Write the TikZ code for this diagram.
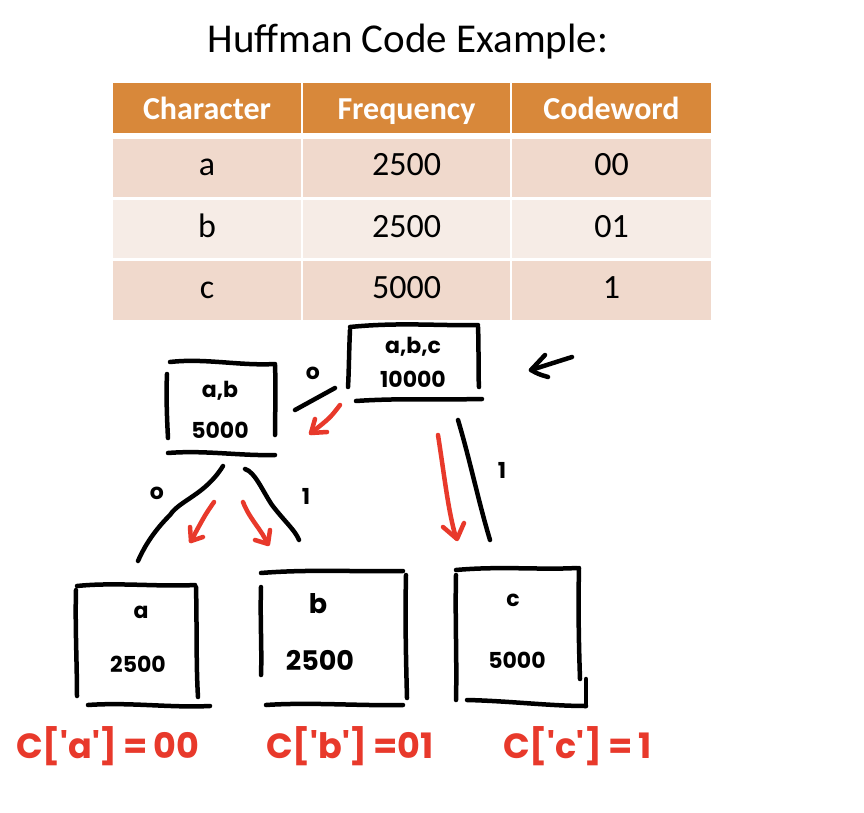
\documentclass[tikz,border=0pt]{standalone}
\usepackage{fontspec}
\setmainfont{Carlito}
\newfontfamily\hand{Poppins}
\usetikzlibrary{arrows.meta}
\definecolor{hdr}{HTML}{D8883A}
\definecolor{rowA}{HTML}{F0D9CC}
\definecolor{rowB}{HTML}{F6ECE6}
\definecolor{pen}{HTML}{E8392B}
\tikzset{
  cell/.style={inner sep=0pt, text height=23pt, text depth=7pt, font=\fontsize{34}{38}\selectfont},
  hcell/.style={cell, fill=hdr, text=white, text height=24pt, text depth=0pt, font=\fontsize{32}{36}\selectfont\bfseries},
  ink/.style={line width=4.5pt, line cap=round, line join=round, black},
  redink/.style={line width=4.5pt, line cap=round, line join=round, pen},
  htext/.style={inner sep=0pt, font=\hand\fontsize{22}{24}\selectfont\bfseries},
  rtext/.style={inner sep=0pt, text=pen, font=\hand\fontsize{35}{40}\selectfont\bfseries}
}
\begin{document}
\begin{tikzpicture}[x=1pt,y=-1pt]
\useasboundingbox (0,0) rectangle (864,813);
\fill[white] (0,0) rectangle (864,813);
% title
\node[inner sep=0pt, font=\fontsize{41}{46}\selectfont] (title) at (408,42) {Huffman Code Example:};
% table header
\node[hcell, minimum width=188pt, minimum height=50pt] (h1) at (207,108) {Character};
\node[hcell, minimum width=207pt, minimum height=50pt] (h2) at (406.5,108) {Frequency};
\node[hcell, minimum width=199pt, minimum height=50pt] (h3) at (611.5,108) {Codeword};
% rows
\node[cell, fill=rowA, minimum width=188pt, minimum height=58pt] (a1) at (207,168) {a};
\node[cell, fill=rowA, minimum width=207pt, minimum height=58pt] (a2) at (406.5,168) {2500};
\node[cell, fill=rowA, minimum width=199pt, minimum height=58pt] (a3) at (611.5,168) {00};
\node[cell, fill=rowB, minimum width=188pt, minimum height=58pt] (b1) at (207,229) {b};
\node[cell, fill=rowB, minimum width=207pt, minimum height=58pt] (b2) at (406.5,229) {2500};
\node[cell, fill=rowB, minimum width=199pt, minimum height=58pt] (b3) at (611.5,229) {01};
\node[cell, fill=rowA, minimum width=188pt, minimum height=59pt] (c1) at (207,290.5) {c};
\node[cell, fill=rowA, minimum width=207pt, minimum height=59pt] (c2) at (406.5,290.5) {5000};
\node[cell, fill=rowA, minimum width=199pt, minimum height=59pt] (c3) at (611.5,290.5) {1};

% ---- root box
\draw[ink] (350,330) .. controls (349,350) and (349,370) .. (348,387);
\draw[ink] (350,327) .. controls (400,322) and (440,326) .. (478,325);
\draw[ink] (478,327) .. controls (479,350) and (478,370) .. (479,387);
\draw[ink] (356,401) .. controls (400,398) and (440,400) .. (482,399);
\node[htext] (rt1) at (413,347) {a,b,c};
\node[htext] (rt2) at (413,379) {10000};
% pointer arrow
\draw[ink] (572,357) -- (531,370);
\draw[ink] (545,355) .. controls (538,362) .. (531,370) .. controls (538,374) .. (548,377);

% ---- ab box
\draw[ink] (167,374) .. controls (166,395) and (167,420) .. (168,438);
\draw[ink] (170,362) .. controls (205,358) and (240,366) .. (275,364);
\draw[ink] (275,365) .. controls (276,390) and (275,415) .. (275,435);
\draw[ink] (168,453) .. controls (205,450) and (240,456) .. (275,455);
\node[htext] (ab1) at (220,391) {a,b};
\node[htext] (ab2) at (220,430) {5000};

% edge root -> ab
\node[htext] (l0a) at (313,373) {o};
\draw[ink] (295,410) -- (335,388);
\draw[redink] (340,405) .. controls (330,418) .. (311,433);
\draw[redink] (315,419) -- (311,433) -- (327,432);

% edges ab -> a, b
\node[htext] (l0b) at (157,493) {o};
\draw[ink] (223,466) .. controls (205,495) and (180,500) .. (170,515) .. controls (155,530) and (145,545) .. (138,561);
\draw[redink] (214,502) .. controls (205,515) .. (191,541);
\draw[redink] (190,527) -- (191,541) -- (203,537);
\node[htext] (l1b) at (306,496) {1};
\draw[ink] (245,469) .. controls (255,472) and (262,490) .. (272,505) .. controls (285,522) and (295,530) .. (299,540);
\draw[redink] (243,502) .. controls (250,520) and (262,530) .. (267,543);
\draw[redink] (255,540) -- (268,544) -- (270,530);

% edge root -> c
\node[htext] (l1c) at (502,470) {1};
\draw[ink] (458,420) .. controls (470,460) and (478,500) .. (490,540);
\draw[redink] (438,435) .. controls (445,480) and (448,510) .. (456,538);
\draw[redink] (443,527) -- (457,539) -- (464,523);

% ---- box a
\draw[ink] (76,590) .. controls (75,625) and (77,665) .. (77,696);
\draw[ink] (77,586) .. controls (115,582) and (160,587) .. (195,585);
\draw[ink] (196,587) .. controls (197,625) and (196,665) .. (198,697);
\draw[ink] (88,705) .. controls (130,702) and (170,708) .. (210,706);
\node[htext] (na1) at (141,612) {a};
\node[htext] (na2) at (138,664) {2500};

% ---- box b
\draw[ink] (261,587) .. controls (260,620) and (262,650) .. (261,675);
\draw[ink] (261,573) .. controls (310,569) and (360,572) .. (403,571);
\draw[ink] (406,575) .. controls (405,620) and (406,660) .. (407,698);
\draw[ink] (266,705) .. controls (310,702) and (360,706) .. (403,705);
\node[htext, font=\hand\fontsize{27}{30}\selectfont\bfseries] (nb1) at (318,604) {b};
\node[htext, font=\hand\fontsize{27}{30}\selectfont\bfseries] (nb2) at (320,660) {2500};

% ---- box c
\draw[ink] (456,575) .. controls (455,620) and (457,660) .. (456,700);
\draw[ink] (456,570) .. controls (500,566) and (540,570) .. (577,568);
\draw[ink] (579,568) .. controls (578,610) and (579,650) .. (580,679);
\draw[ink] (586,679) -- (586,706);
\draw[ink] (467,700) .. controls (510,701) and (550,706) .. (586,706);
\node[htext] (nc1) at (513,600) {c};
\node[htext] (nc2) at (517,660) {5000};

% ---- red codeword labels
\node[rtext, anchor=west] (ca) at (16,746) {C['a']\,=\,00};
\node[rtext, anchor=west] (cb) at (266,746) {C['b']\,=01};
\node[rtext, anchor=west] (cc) at (503,746) {C['c']\,=\,1};
\end{tikzpicture}
\end{document}
